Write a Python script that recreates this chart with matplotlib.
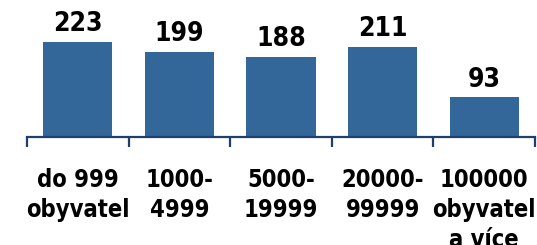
import numpy as np
import matplotlib.pyplot as plt

# data
categories = ['do 999\nobyvatel', '1000-\n4999', '5000-\n19999', '20000-\n99999', '100000\nobyvatel\na více']
values = [223, 199, 188, 211, 93]

bar_color = '#336699'
axis_color = '#1f3f6f'

fig = plt.figure(figsize=(5.37, 2.45), dpi=100)
ax = fig.add_axes([27/537, 108/245, 508/537, 137/245])

x = np.arange(len(values))
ax.bar(x, values, width=0.68, color=bar_color)
ax.set_xlim(-0.5, len(values) - 0.5)
ax.set_ylim(0, 321)

for xi, v in zip(x, values):
    ax.text(xi, v + 11, str(v), ha='center', va='bottom',
            fontsize=19, fontweight='bold', family='DejaVu Sans',
            fontstretch='condensed')

for s in ['left', 'top', 'right']:
    ax.spines[s].set_visible(False)
ax.spines['bottom'].set_color(axis_color)
ax.spines['bottom'].set_linewidth(1.6)
ax.set_yticks([])

ax.set_xticks(x)
ax.set_xticklabels(categories, fontsize=17, fontweight='bold',
                   family='DejaVu Sans', fontstretch='condensed',
                   linespacing=1.32)
ax.tick_params(axis='x', which='major', length=0, pad=22)
ax.set_xticks(np.arange(len(values) + 1) - 0.5, minor=True)
ax.tick_params(axis='x', which='minor', length=7, width=1.6, color=axis_color)

plt.savefig('out.png', dpi=100)
